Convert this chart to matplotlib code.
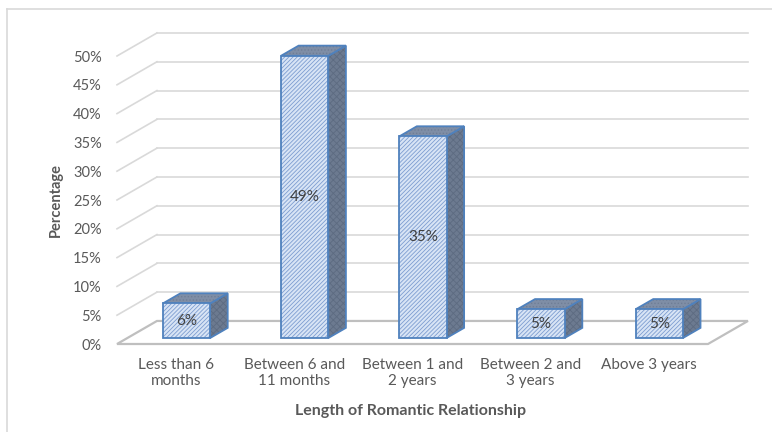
import numpy as np
import matplotlib as mpl
import matplotlib.pyplot as plt
from matplotlib.patches import Polygon
from matplotlib.lines import Line2D

mpl.rcParams['font.family'] = ['Lato', 'DejaVu Sans']
mpl.rcParams['hatch.linewidth'] = 0.6

categories = ['Less than 6\nmonths', 'Between 6 and\n11 months', 'Between 1 and\n2 years',
              'Between 2 and\n3 years', 'Above 3 years']
values = [6, 49, 35, 5, 5]
yticks = np.arange(0, 55, 5)

# fake 3d: depth offset of the whole plot box in data units
DX, DY = 0.338, 4.0
BAR_W = 0.4
D0, D1 = 0.26, 0.70   # bar front / back depth fraction

def proj(x, v, d):
    return (x + d * DX, v + d * DY)

fig = plt.figure(figsize=(7.72, 4.32), dpi=100)
ax = fig.add_axes([117/772, 88/432, 591/772, 288/432])
ax.set_xlim(0, 5)
ax.set_ylim(0, 50)
for s in ax.spines.values():
    s.set_visible(False)

grid_c = '#d9d9d9'
# side wall diagonals and back wall gridlines
for v in yticks:
    if v == 0:
        continue
    ax.plot([0, DX], [v, v + DY], color=grid_c, lw=1.2, clip_on=False, zorder=1)
    ax.plot([DX, 5 + DX], [v + DY, v + DY], color=grid_c, lw=1.2, clip_on=False, zorder=1)

# floor
floor = [proj(0, 0, 0), proj(5, 0, 0), proj(5, 0, 1), proj(0, 0, 1)]
ax.add_patch(Polygon(floor, closed=True, fill=False, edgecolor='#bfbfbf', lw=1.6,
                     clip_on=False, zorder=1))

edge_c = '#4f81bd'

def face(pts, fc, hc, hatch, z):
    ax.add_patch(Polygon(pts, closed=True, facecolor=fc, edgecolor=hc, hatch=hatch,
                         lw=0, clip_on=False, zorder=z))
    ax.add_patch(Polygon(pts, closed=True, fill=False, edgecolor=edge_c, lw=1.3,
                         clip_on=False, zorder=z + 0.1))

for i, v in enumerate(values):
    x0 = i + 0.5 - BAR_W / 2
    x1 = i + 0.5 + BAR_W / 2
    z = 3 + i
    side = [proj(x1, 0, D0), proj(x1, 0, D1), proj(x1, v, D1), proj(x1, v, D0)]
    top = [proj(x0, v, D0), proj(x1, v, D0), proj(x1, v, D1), proj(x0, v, D1)]
    front = [proj(x0, 0, D0), proj(x1, 0, D0), proj(x1, v, D0), proj(x0, v, D0)]
    face(side, '#6c7a90', '#5d6b81', 'xxxxx', z)
    face(top, '#7f8ea6', '#6f7e96', '.....', z + 0.2)
    face(front, '#d8e4f5', '#7d9dd0', '////////', z + 0.4)
    cx, cy = proj(i + 0.5, v / 2, D0)
    ax.text(cx, cy, f'{v}%', ha='center', va='center', fontsize=11,
            color='#404040', zorder=z + 0.6)

ax.set_yticks(yticks)
ax.set_yticklabels([f'{v}%' for v in yticks])
ax.set_xticks(np.arange(5) + 0.5)
ax.set_xticklabels(categories)
ax.tick_params(axis='y', length=0, pad=11, labelsize=10.5, labelcolor='#595959')
ax.tick_params(axis='x', length=0, pad=10, labelsize=11, labelcolor='#595959')

ax.set_ylabel('Percentage', fontsize=10.5, fontweight='bold', color='#595959')
ax.yaxis.set_label_coords(-0.092, 0.5)
ax.set_xlabel('Length of Romantic Relationship', fontsize=11.5, fontweight='bold', color='#595959')
ax.xaxis.set_label_coords(0.496, -0.21)

# chart area border
fig.add_artist(Line2D([7/772, 1], [1 - 9/432, 1 - 9/432], color='#d9d9d9', lw=1.2))
fig.add_artist(Line2D([7/772, 7/772], [0, 1 - 9/432], color='#d9d9d9', lw=1.2))

fig.savefig('out.png', dpi=100)
